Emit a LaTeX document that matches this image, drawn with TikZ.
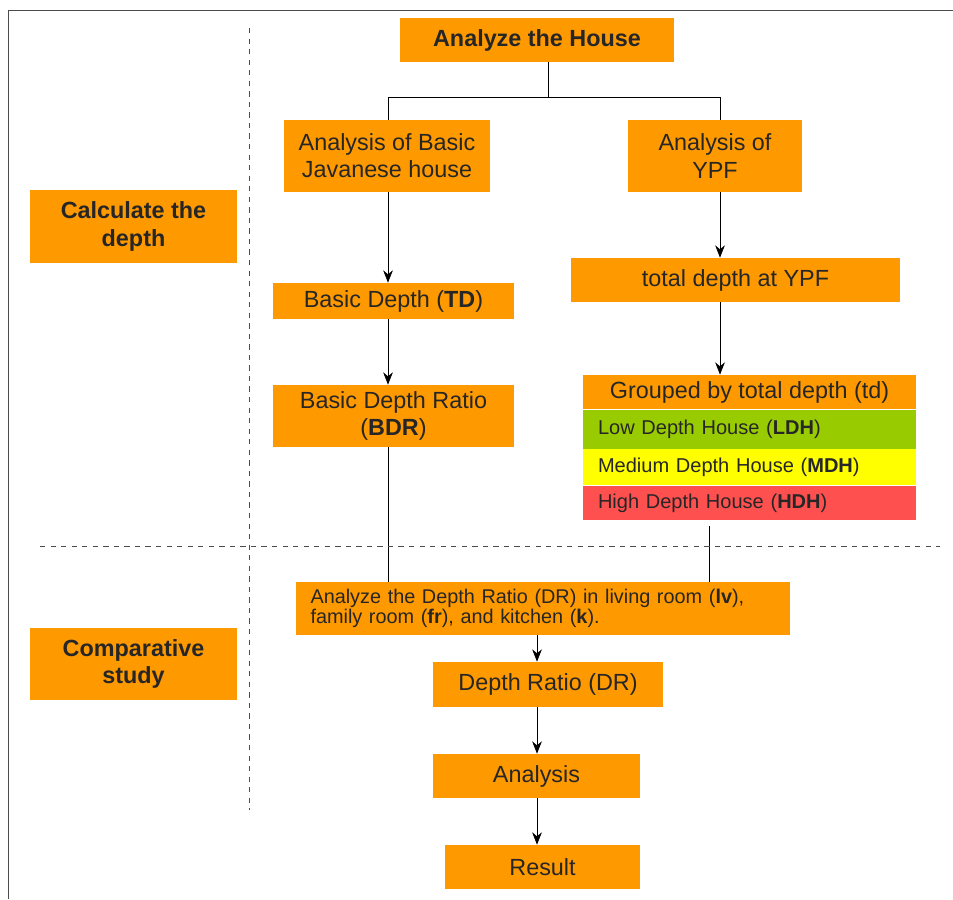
\documentclass[tikz,border=0pt]{standalone}
\usepackage{fontspec}
\setmainfont{Liberation Sans}
\usetikzlibrary{positioning, arrows.meta, calc}

\definecolor{boxorange}{RGB}{255,153,0}
\definecolor{lowgreen}{RGB}{153,204,0}
\definecolor{medyellow}{RGB}{255,255,0}
\definecolor{highred}{RGB}{255,80,80}

\begin{document}
\begin{tikzpicture}[
    >={Stealth[length=7pt, width=5.5pt]},
    % Box styles
    block/.style={fill=boxorange, rectangle, align=center, inner sep=2pt, text=black!85, font=\fontsize{13.3}{15.5}\selectfont},
    head_block/.style={block, font=\fontsize{13.3}{15.5}\selectfont\bfseries},
    band/.style={rectangle, minimum width=6.66cm, align=left, text width=6.06cm, inner sep=0pt, text=black!85, font=\fontsize{11.4}{13}\selectfont},
    % Line styles
    flow_arrow/.style={->, thin, draw=black},
    flow_line/.style={thin, draw=black},
    divider/.style={dashed, draw=black!70, thin}
]
    \useasboundingbox (0,0) rectangle (19.06,-17.98);

    % ==================== Frame ====================
    \draw [draw=black!70] (19.06,-0.2) -- (0.16,-0.2) -- (0.16,-17.98);

    % ==================== Top: Analyze the House ====================
    \node (house) at (10.74,-0.80) [head_block, minimum width=5.48cm, minimum height=0.88cm] {Analyze the House};

    \node (javanese) at (7.74,-3.12) [block, minimum width=4.12cm, minimum height=1.44cm] {Analysis of Basic\\Javanese house};
    \node (ypf) at (14.30,-3.12) [block, minimum width=3.48cm, minimum height=1.44cm] {Analysis of\\YPF};

    \coordinate (lcol) at (7.76,0);
    \coordinate (rcol) at (14.40,0);
    \coordinate (split) at (10.96,-1.94);

    % Tree connector
    \draw [flow_line] (house.south -| split) -- (split);
    \draw [flow_line] (javanese.north -| lcol) -- (split -| lcol) -- (split -| rcol) -- (ypf.north -| rcol);

    % ==================== Left labels ====================
    \node (calc) at (2.67,-4.53) [head_block, minimum width=4.14cm, minimum height=1.46cm] {Calculate the\\depth};
    \node (comp) at (2.67,-13.28) [head_block, minimum width=4.14cm, minimum height=1.44cm] {Comparative\\study};

    % ==================== Left column ====================
    \node (td) at (7.87,-6.02) [block, minimum width=4.82cm, minimum height=0.72cm] {Basic Depth (\textbf{TD})};
    \node (bdr) at (7.87,-8.32) [block, minimum width=4.82cm, minimum height=1.24cm] {Basic Depth Ratio\\(\textbf{BDR})};

    \draw [flow_arrow] (javanese.south -| lcol) -- (td.north -| lcol);
    \draw [flow_arrow] (td.south -| lcol) -- (bdr.north -| lcol);

    % ==================== Right column ====================
    \node (tdypf) at (14.71,-5.60) [block, minimum width=6.58cm, minimum height=0.88cm] {total depth at YPF};

    \node (grouped) at (14.99,-7.84) [block, minimum width=6.66cm, minimum height=0.68cm] {Grouped by total depth (td)};
    \node (ldh) [band, fill=lowgreen, minimum height=0.78cm, below=0cm of grouped] {Low Depth House (\textbf{LDH})};
    \node (mdh) [band, fill=medyellow, minimum height=0.72cm, below=0cm of ldh] {Medium Depth House (\textbf{MDH})};
    \node (hdh) [band, fill=highred, minimum height=0.68cm, below=0cm of mdh] {High Depth House (\textbf{HDH})};

    \draw [flow_arrow] (ypf.south -| rcol) -- (tdypf.north -| rcol);
    \draw [flow_arrow] (tdypf.south -| rcol) -- (grouped.north -| rcol);

    % ==================== Bottom: Comparative study ====================
    \node (dr_text) at (10.86,-12.17) [block, minimum width=9.88cm, minimum height=1.06cm, align=left, text width=9.3cm, font=\fontsize{11.3}{11.6}\selectfont] {Analyze the Depth Ratio (DR) in living room (\textbf{lv}),\\family room (\textbf{fr}), and kitchen (\textbf{k}).};
    \node (dr) at (10.96,-13.69) [block, minimum width=4.6cm, minimum height=0.9cm] {Depth Ratio (DR)};
    \node (analysis) at (10.73,-15.52) [block, minimum width=4.14cm, minimum height=0.88cm] {Analysis};
    \node (result) at (10.85,-17.34) [block, minimum width=3.9cm, minimum height=0.88cm] {Result};

    \coordinate (mcol) at (10.74,0);
    \coordinate (hcol) at (14.18,0);

    \draw [flow_line] (bdr.south -| lcol) -- (dr_text.north -| lcol);
    \draw [flow_line] ([yshift=-0.12cm]hdh.south -| hcol) -- (dr_text.north -| hcol);

    \draw [flow_arrow] (dr_text.south -| mcol) -- (dr.north -| mcol);
    \draw [flow_arrow] (dr.south -| mcol) -- (analysis.north -| mcol);
    \draw [flow_arrow] (analysis.south -| mcol) -- (result.north -| mcol);

    % ==================== Dividers ====================
    \draw [divider] (4.98,-0.56) -- (4.98,-16.2);
    \draw [divider] (0.8,-10.92) -- (18.8,-10.92);

\end{tikzpicture}
\end{document}
